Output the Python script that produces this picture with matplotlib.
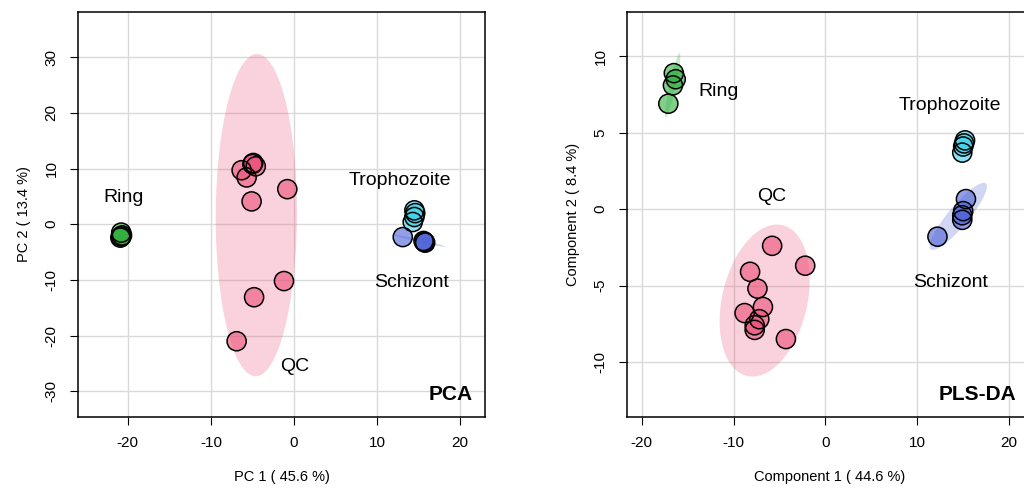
import numpy as np
import matplotlib
matplotlib.use('Agg')
from matplotlib import pyplot as plt

plt.rcParams['font.family'] = ['Liberation Sans', 'DejaVu Sans']
plt.rcParams['axes.unicode_minus'] = False

groups = ['Ring', 'QC', 'Trophozoite', 'Schizont']
colors = {'Ring': '#2fae3c', 'QC': '#ec4f78', 'Trophozoite': '#3fd3ea', 'Schizont': '#4a5fd6'}

# PCA scores
pca_x = {
    'Ring': [-20.8, -20.8, -20.7, -20.9],
    'QC': [-6.3, -5.7, -4.9, -4.6, -5.0, -5.1, -0.8, -1.2, -4.8, -6.9],
    'Trophozoite': [14.5, 14.6, 14.5, 14.3],
    'Schizont': [13.1, 15.7, 15.8, 15.6],
}
pca_y = {
    'Ring': [-1.5, -2.2, -2.0, -2.4],
    'QC': [9.7, 8.4, 11.0, 10.4, 10.8, 4.1, 6.3, -10.2, -13.1, -21.0],
    'Trophozoite': [2.5, 2.0, 1.3, 0.4],
    'Schizont': [-2.3, -3.2, -3.3, -3.0],
}

# PLS-DA scores
pls_x = {
    'Ring': [-16.5, -16.3, -16.6, -17.1],
    'QC': [-5.8, -2.2, -8.2, -7.4, -6.8, -8.8, -7.2, -7.7, -7.7, -4.3],
    'Trophozoite': [15.2, 15.0, 14.9, 15.1],
    'Schizont': [15.3, 15.0, 14.9, 14.9, 12.2],
}
pls_y = {
    'Ring': [8.9, 8.5, 8.1, 6.9],
    'QC': [-2.4, -3.7, -4.1, -5.2, -6.4, -6.8, -7.2, -7.6, -7.9, -8.5],
    'Trophozoite': [4.5, 4.1, 3.7, 4.3],
    'Schizont': [0.66, -0.13, -0.4, -0.7, -1.8],
}


def conf_ellipse(x, y, t=2.448, n=200):
    # 95% confidence region from the group covariance
    x = np.asarray(x); y = np.asarray(y)
    cov = np.cov(x, y)
    vals, vecs = np.linalg.eigh(cov)
    vals = np.clip(vals, 0, None)
    th = np.linspace(0, 2 * np.pi, n)
    circ = np.vstack([np.cos(th), np.sin(th)]) * np.sqrt(vals)[:, None] * t
    pts = vecs @ circ
    return x.mean() + pts[0], y.mean() + pts[1]


def panel(ax, sx, sy, xlab, ylab, title, labels, xlim, ylim, xt, yt):
    ax.set_xlim(xlim)
    ax.set_ylim(ylim)
    ax.set_xticks(xt)
    ax.set_yticks(yt)
    ax.grid(True, color='#d9d9d9', linewidth=1)
    ax.set_axisbelow(True)
    for g in groups:
        ex, ey = conf_ellipse(sx[g], sy[g])
        ax.fill(ex, ey, color=colors[g], alpha=0.25, linewidth=0, zorder=1)
    for g in groups:
        ax.scatter(sx[g], sy[g], s=190, facecolor=colors[g], alpha=0.6,
                   edgecolor='none', zorder=3)
        ax.scatter(sx[g], sy[g], s=190, facecolor='none', edgecolor='black',
                   linewidth=1.1, zorder=4)
    for g, (lx, ly) in labels.items():
        ax.text(lx, ly, g, fontsize=14, ha='center', va='center', zorder=5)
    ax.text(0.97, 0.055, title, transform=ax.transAxes, fontsize=15,
            fontweight='bold', ha='right', va='center')
    ax.set_xlabel(xlab, fontsize=10.5, labelpad=14)
    ax.set_ylabel(ylab, fontsize=10.5, labelpad=10)
    ax.tick_params(labelsize=11, length=6, pad=8)
    for lbl in ax.get_yticklabels():
        lbl.set_rotation(90)
        lbl.set_va('center')
    for sp in ax.spines.values():
        sp.set_linewidth(1.1)


fig = plt.figure(figsize=(10.24, 4.94), dpi=100)
ax1 = fig.add_axes([78 / 1024, 77 / 494, 407 / 1024, 405 / 494])
ax2 = fig.add_axes([627 / 1024, 77 / 494, 406 / 1024, 405 / 494])

panel(ax1, pca_x, pca_y, 'PC 1 ( 45.6 %)', 'PC 2 ( 13.4 %)', 'PCA',
      {'Ring': (-20.5, 4.8), 'QC': (0.1, -25.5), 'Trophozoite': (12.8, 7.9), 'Schizont': (14.1, -10.4)},
      (-26.0, 23.0), (-34.6, 38.1), [-20, -10, 0, 10, 20], [-30, -20, -10, 0, 10, 20, 30])

panel(ax2, pls_x, pls_y, 'Component 1 ( 44.6 %)', 'Component 2 ( 8.4 %)', 'PLS-DA',
      {'Ring': (-11.6, 7.7), 'QC': (-5.8, 0.85), 'Trophozoite': (13.6, 6.75), 'Schizont': (13.6, -4.8)},
      (-21.6, 22.6), (-13.6, 12.9), [-20, -10, 0, 10, 20], [-10, -5, 0, 5, 10])
ax2.texts[-1].set_position((0.96, 0.055))

fig.savefig('out.png', dpi=100)
